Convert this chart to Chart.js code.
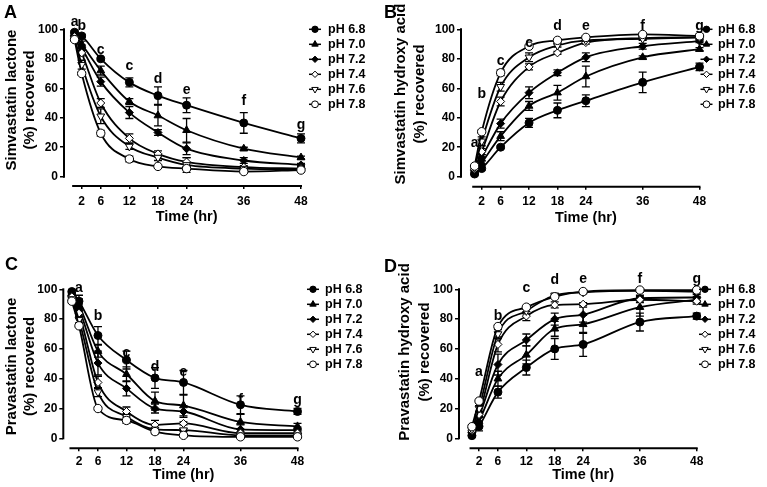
<!DOCTYPE html>
<html>
<head>
<meta charset="utf-8">
<script src="https://cdn.jsdelivr.net/npm/chart.js@4.4.1/dist/chart.umd.min.js"></script>
<style>
  body { margin: 0; background: #fff; }
  #wrap { position: relative; width: 767px; height: 487px; overflow: hidden; }
  canvas { position: absolute; }
</style>
</head>
<body>
<div id="wrap">
  <canvas id="chartA" width="383" height="243" style="left:0;top:0"></canvas>
  <canvas id="chartB" width="384" height="243" style="left:383px;top:0"></canvas>
  <canvas id="chartC" width="383" height="244" style="left:0;top:243px"></canvas>
  <canvas id="chartD" width="384" height="244" style="left:383px;top:243px"></canvas>
</div>
<script>
// sampling times (hr) and axis ticks
const times = [0.5, 2, 6, 12, 18, 24, 36, 48];
const xTicks = [2, 6, 12, 18, 24, 36, 48];
const yTicks = [0, 20, 40, 60, 80, 100];
const phLabels = ["pH 6.8", "pH 7.0", "pH 7.2", "pH 7.4", "pH 7.6", "pH 7.8"];

// A - simvastatin lactone, % recovered (rows = pH 6.8 ... 7.8)
const simLactone = [
  [98, 95.5, 80, 64, 55, 48.5, 36.5, 26],
  [97, 90, 72, 51, 41.5, 31.5, 19, 13],
  [96, 87.5, 64.5, 43.5, 30, 19, 11, 8],
  [95, 84, 50, 26, 15.5, 10, 6.5, 5.5],
  [94, 76, 41, 20.5, 13, 8, 5.5, 5],
  [93, 70, 29.5, 12, 7, 5.5, 3.5, 4.5]
];
const simLactoneErr = [
  [1, 1, 1, 3, 6, 5, 7, 3],
  [1, 2, 3, 2, 7, 8, 1, 1],
  [1, 2, 3, 4, 2, 4, 2, 1],
  [1, 2, 3, 3, 2, 3, 1, 1],
  [1, 3, 5, 2, 2, 5, 1, 1],
  [1, 1, 2, 2, 1, 1, 1, 1]
];

// B - simvastatin hydroxy acid
const simAcid = [
  [1.8, 5.5, 20, 36.5, 45, 51.5, 64, 74.5],
  [3, 9.5, 27.5, 48, 57, 68, 81, 86.5],
  [4, 13, 36, 57, 70.5, 81, 88.5, 92],
  [5, 17, 51, 74.5, 84, 91, 94, 94.5],
  [6, 24, 61, 81, 89, 92.5, 93.5, 94.5],
  [7.2, 30.5, 70.5, 88.5, 92.5, 94.5, 96.5, 95.5]
];
const simAcidErr = [
  [1, 1, 1, 3, 5, 4, 7, 2.5],
  [1, 1, 3, 3, 5, 7, 1, 1],
  [1, 2, 3, 4, 2, 3, 2, 1],
  [1, 2, 3, 2, 1, 1, 1, 1],
  [1, 3, 3, 3, 1, 1, 1, 1],
  [1, 1, 2, 1, 1, 1, 1, 1]
];

// C - pravastatin lactone
const praLactone = [
  [98.5, 92, 69, 52.5, 40.5, 37.5, 22.5, 18],
  [97, 89.5, 58.5, 43, 25, 22, 11, 8],
  [96, 87, 50.5, 33.5, 20, 18, 6, 5.5],
  [95, 84, 37.5, 18, 9, 10, 3.5, 3.5],
  [93.5, 79.5, 31, 14.5, 6, 5.5, 2, 2],
  [92, 75.5, 20, 12, 4.5, 2, 1, 1]
];
const praLactoneErr = [
  [1, 4, 6, 6, 7, 8, 6, 2],
  [1, 4, 4, 5, 6, 7, 5, 2],
  [1, 3, 8, 5, 3, 4, 3, 2],
  [1, 2, 4, 3, 3, 1, 1, 1],
  [1, 2, 3, 2, 3, 1, 1, 1],
  [1, 1, 1, 2, 1, 1, 1, 1]
];

// D - pravastatin hydroxy acid
const praAcid = [
  [1.8, 8, 31, 47.5, 60, 63, 78, 82],
  [3, 11.5, 40, 56, 73.5, 76.5, 88, 93],
  [4, 14.5, 49.5, 66, 80, 83, 94, 94.5],
  [5, 16, 63, 82, 89.5, 90, 93, 92],
  [6, 20, 70, 85.5, 96, 98, 99, 98.5],
  [7.8, 25, 75, 88, 95, 98.5, 99.5, 99.5]
];
const praAcidErr = [
  [1, 3, 4, 5, 7, 8, 6, 2],
  [1, 3, 5, 6, 5, 6, 6, 2],
  [1, 3, 7, 4, 4, 5, 2, 2],
  [1, 2, 5, 3, 2, 1, 2, 2],
  [1, 2, 3, 2, 1, 1, 1, 1],
  [1, 1, 1, 1, 1, 1, 1, 1]
];

// significance letters (text, time, height in % units)
const lettersAB = ["a", "b", "c", "c", "d", "e", "f", "g"];
const lettersCD = ["a", "b", "c", "d", "e", "f", "g"];
const letterTimesCD = [2, 6, 12, 18, 24, 36, 48];
const letterYA = [105, 102, 86, 75, 66, 59, 51, 35];
const letterYB = [23, 56, 78.5, 90.5, 102, 102, 102, 102];
const letterYC = [100.7, 81.7, 57, 48, 44.7, 25.7, 25.7];
const letterYD = [44.7, 81.7, 100.7, 106.3, 106.7, 106.7, 106.7];

const FONT = "'Liberation Sans', Arial, Helvetica, sans-serif";
Chart.defaults.font.family = FONT;
Chart.defaults.color = "#000";

const markers = [
  { style: "circle", fill: "#000", radius: 4, rotation: 0 },
  { style: "triangle", fill: "#000", radius: 4.5, rotation: 0 },
  { style: "rectRot", fill: "#000", radius: 4, rotation: 0 },
  { style: "rectRot", fill: "#fff", radius: 4, rotation: 0 },
  { style: "triangle", fill: "#fff", radius: 4.5, rotation: 180 },
  { style: "circle", fill: "#fff", radius: 4.2, rotation: 0 }
];

const panels = [
  { id: "chartA", w: 383, h: 243, tag: "A", tagX: 4, tagY: 18,
    yTitle: ["Simvastatin lactone", "(%) recovered"], titleX: [12, 30], titleY: 100,
    vals: simLactone, errs: simLactoneErr,
    letters: lettersAB, letterT: times, letterY: letterYA,
    xMin: -1.71, yMin: -6.3, area: { left: 64, top: 29.3, right: 301, bottom: 186 },
    legendX: 315, legendTextX: 328, xTitleY: 217, xPad: 5 },
  { id: "chartB", w: 384, h: 243, tag: "B", tagX: 1, tagY: 18,
    yTitle: ["Simvastatin hydroxy acid", "(%) recovered"], titleX: [18, 37], titleY: 94,
    vals: simAcid, errs: simAcidErr,
    letters: lettersAB, letterT: times, letterY: letterYB,
    xMin: -2.37, yMin: -6.8, area: { left: 78, top: 29.3, right: 316.5, bottom: 186.7 },
    legendX: 323.5, legendTextX: 335, xTitleY: 218, xPad: 5 },
  { id: "chartC", w: 383, h: 244, tag: "C", tagX: 5, tagY: 27,
    yTitle: ["Pravastatin lactone", "(%) recovered"], titleX: [12, 30], titleY: 123.5,
    vals: praLactone, errs: praLactoneErr,
    letters: lettersCD, letterT: letterTimesCD, letterY: letterYC,
    xMin: -1.3, yMin: -6.7, area: { left: 63.3, top: 46.3, right: 297.5, bottom: 205.3 },
    legendX: 313, legendTextX: 325, xTitleY: 232, xPad: 3 },
  { id: "chartD", w: 384, h: 244, tag: "D", tagX: 1, tagY: 29,
    yTitle: ["Pravastatin hydroxy acid", "(%) recovered"], titleX: [22, 42], titleY: 109,
    vals: praAcid, errs: praAcidErr,
    letters: lettersCD, letterT: letterTimesCD, letterY: letterYD,
    xMin: -2.23, yMin: -6.7, area: { left: 76, top: 46.3, right: 313.7, bottom: 205.3 },
    legendX: 322, legendTextX: 335, xTitleY: 232, xPad: 3 }
];

// error bars behind the markers
const errorBars = {
  id: "errorBars",
  beforeDatasetsDraw(chart) {
    const { ctx, scales: { x, y } } = chart;
    ctx.save();
    ctx.strokeStyle = "#000";
    ctx.lineWidth = 1.3;
    chart.data.datasets.forEach(ds => {
      ds.data.forEach((pt, j) => {
        const e = ds.errors[j];
        if (!e) return;
        const px = x.getPixelForValue(pt.x);
        const top = y.getPixelForValue(pt.y + e);
        const bot = y.getPixelForValue(pt.y - e);
        ctx.beginPath();
        ctx.moveTo(px, top); ctx.lineTo(px, bot);
        ctx.moveTo(px - 4, top); ctx.lineTo(px + 4, top);
        ctx.moveTo(px - 4, bot); ctx.lineTo(px + 4, bot);
        ctx.stroke();
      });
    });
    ctx.restore();
  }
};

function makeDecor(p) {
  return {
    id: "decor",
    afterDraw(chart) {
      const { ctx, scales: { x, y } } = chart;
      ctx.save();
      ctx.fillStyle = "#000";
      ctx.strokeStyle = "#000";

      // offset axes like the original
      ctx.lineWidth = 2;
      ctx.beginPath();
      ctx.moveTo(chart.chartArea.left, y.getPixelForValue(0) + 1);
      ctx.lineTo(chart.chartArea.left, y.getPixelForValue(100) - 1);
      ctx.stroke();
      ctx.beginPath();
      ctx.moveTo(x.getPixelForValue(0), chart.chartArea.bottom);
      ctx.lineTo(x.getPixelForValue(48) + 1, chart.chartArea.bottom);
      ctx.stroke();

      // panel tag
      ctx.font = "bold 18px " + FONT;
      ctx.textAlign = "left";
      ctx.textBaseline = "alphabetic";
      ctx.fillText(p.tag, p.tagX, p.tagY);

      // y title, two rotated lines
      ctx.font = "bold 15px " + FONT;
      ctx.textAlign = "center";
      ctx.textBaseline = "middle";
      p.yTitle.forEach((line, i) => {
        ctx.save();
        ctx.translate(p.titleX[i], p.titleY);
        ctx.rotate(-Math.PI / 2);
        ctx.fillText(line, 0, 0);
        ctx.restore();
      });

      // x title
      ctx.font = "bold 14.5px " + FONT;
      ctx.fillText("Time (hr)", (x.getPixelForValue(0) + x.getPixelForValue(48)) / 2, p.xTitleY);

      // letters
      ctx.font = "bold 14px " + FONT;
      p.letters.forEach((l, i) => {
        ctx.fillText(l, x.getPixelForValue(p.letterT[i]), y.getPixelForValue(p.letterY[i]));
      });

      // legend
      ctx.font = "bold 12.5px " + FONT;
      ctx.textAlign = "left";
      phLabels.forEach((lab, i) => {
        const ly = p.area.top + i * 15;
        ctx.lineWidth = 1.5;
        ctx.strokeStyle = "#000";
        ctx.beginPath();
        ctx.moveTo(p.legendX - 6, ly);
        ctx.lineTo(p.legendX + 6, ly);
        ctx.stroke();
        const m = markers[i];
        ctx.fillStyle = m.fill;
        ctx.strokeStyle = "#000";
        ctx.lineWidth = 1;
        Chart.helpers.drawPoint(ctx, { pointStyle: m.style, rotation: m.rotation, radius: m.radius - 0.8, borderWidth: 1 }, p.legendX, ly);
        ctx.fillStyle = "#000";
        ctx.fillText(lab, p.legendTextX, ly + 0.5);
      });
      ctx.restore();
    }
  };
}

function makeChart(p) {
  const datasets = p.vals.map((vals, i) => ({
    label: phLabels[i],
    data: times.map((t, j) => ({ x: t, y: vals[j] })),
    errors: p.errs[i],
    borderColor: "#000",
    borderWidth: 1.8,
    backgroundColor: markers[i].fill,
    pointStyle: markers[i].style,
    rotation: markers[i].rotation,
    pointRadius: markers[i].radius,
    pointBackgroundColor: markers[i].fill,
    pointBorderColor: "#000",
    pointBorderWidth: 1,
    cubicInterpolationMode: "monotone",
    fill: false,
    clip: false,
    order: 5 - i
  }));

  new Chart(document.getElementById(p.id), {
    type: "line",
    data: { datasets },
    options: {
      responsive: false,
      animation: false,
      events: [],
      layout: { padding: { left: 0, top: p.area.top, right: p.w - p.area.right, bottom: 0 } },
      plugins: { legend: { display: false }, tooltip: { enabled: false } },
      scales: {
        x: {
          type: "linear",
          min: p.xMin,
          max: 48,
          afterBuildTicks: s => { s.ticks = xTicks.map(v => ({ value: v })); },
          afterFit: s => { s.height = p.h - p.area.bottom; },
          grid: { display: true, drawOnChartArea: false, drawTicks: true, tickLength: 3, color: "#000", lineWidth: 1.5 },
          border: { display: false },
          ticks: { color: "#000", font: { size: 12, weight: "bold" }, padding: p.xPad, maxRotation: 0, autoSkip: false }
        },
        y: {
          min: p.yMin,
          max: 100,
          afterBuildTicks: s => { s.ticks = yTicks.map(v => ({ value: v })); },
          afterFit: s => { s.width = p.area.left; },
          grid: { display: true, drawOnChartArea: false, drawTicks: true, tickLength: 4, color: "#000", lineWidth: 1.5 },
          border: { display: false },
          ticks: { color: "#000", font: { size: 12, weight: "bold" }, padding: 2 }
        }
      }
    },
    plugins: [errorBars, makeDecor(p)]
  });
}

panels.forEach(makeChart);
</script>
</body>
</html>
